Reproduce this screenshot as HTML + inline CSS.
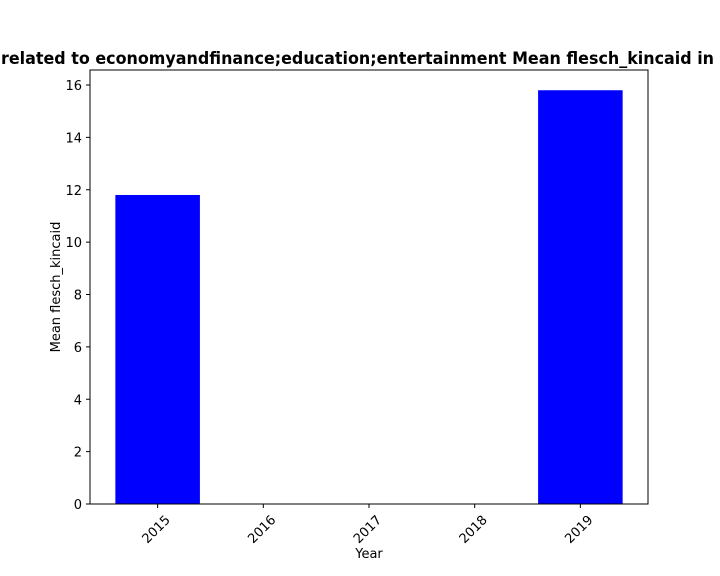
<!DOCTYPE html>
<html><head><meta charset="utf-8"><style>
html,body{margin:0;padding:0;background:#fff}
svg{display:block;font-family:"DejaVu Sans","Liberation Sans",sans-serif}
</style></head><body>
<svg id="chart" width="720" height="576" xmlns="http://www.w3.org/2000/svg">
<text x="1" y="64" font-size="16.5" font-weight="bold" textLength="713" lengthAdjust="spacingAndGlyphs">related to economyandfinance;education;entertainment Mean flesch_kincaid in</text>
<g id="plot"></g>
<text x="369" y="558" font-size="13" text-anchor="middle">Year</text>
<text transform="translate(60,287) rotate(-90)" font-size="13" text-anchor="middle">Mean flesch_kincaid</text>
</svg>
<script>
const categories = ["2015","2016","2017","2018","2019"];
const values = [11.8, 0, 0, 0, 15.8];
const yTicks = [0,2,4,6,8,10,12,14,16];

const NS="http://www.w3.org/2000/svg";
const g=document.getElementById('plot');
const L=90,R=648,T=70,B=504;
const x0=-0.64,x1=4.64;
const xs=v=>L+(v-x0)/(x1-x0)*(R-L);
const ys=v=>B-v*(B-85)/16;
function mk(t,a){const e=document.createElementNS(NS,t);for(const k in a)e.setAttribute(k,a[k]);g.appendChild(e);return e;}
categories.forEach((c,i)=>{
  const r=mk('rect',{x:xs(i-0.4),y:ys(values[i]),width:xs(i+0.4)-xs(i-0.4),height:B-ys(values[i]),fill:'#0000ff'});
  
  
  const tk=mk('line',{x1:xs(i),x2:xs(i),y1:B,y2:B+4,stroke:'#000'});
  
  
  const tx=xs(i)-7, ty=B+17;
  const t=mk('text',{x:tx-2,y:ty+14,'font-size':13,'text-anchor':'middle',transform:`rotate(-45 ${tx} ${ty})`});
  t.textContent=c;
  
  
});
yTicks.forEach(v=>{
  const tk=mk('line',{x1:L-4,x2:L,y1:ys(v),y2:ys(v),stroke:'#000'});
  
  
  const t=mk('text',{x:L-8,y:ys(v)+5,'font-size':13,'text-anchor':'end'});
  t.textContent=v;
  
  
});
const f=mk('rect',{x:L,y:T,width:R-L,height:B-T,fill:'none',stroke:'#000','stroke-width':1});


</script>
</body></html>
